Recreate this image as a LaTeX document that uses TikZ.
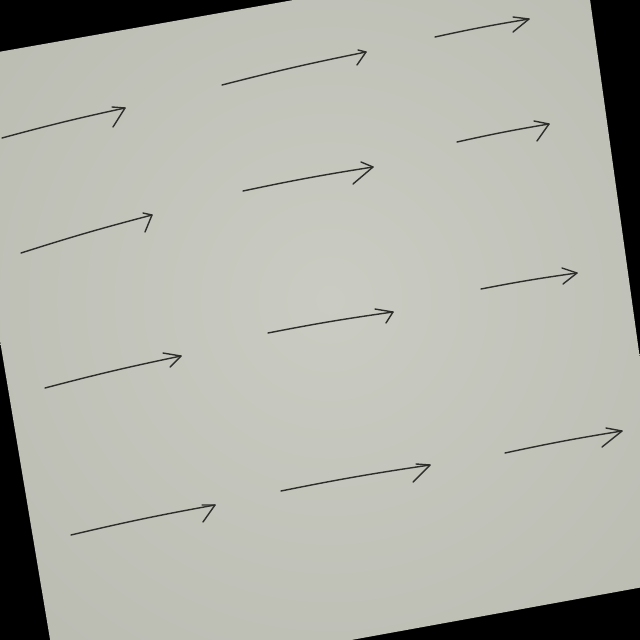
\documentclass[tikz,border=0pt]{standalone}
\begin{document}
\begin{tikzpicture}[x=0.02cm,y=-0.02cm,
  ink/.style={draw={rgb,255:red,45;green,45;blue,42},line width=0.8pt,line cap=round,line join=round}]
\definecolor{paperin}{RGB}{202,203,194}
\definecolor{paperout}{RGB}{186,188,178}
\useasboundingbox (0,0) rectangle (640,640);
\clip (0,0) rectangle (640,640);
\fill[black] (0,0) rectangle (640,640);
\begin{scope}
  \clip (-47,60) -- (583,-51) -- (671,582) -- (59,693) -- cycle;
  \shade[inner color=paperin,outer color=paperout] (330,300) circle (460);
\end{scope}
% arrows: start / tip / upper barb / lower barb
\foreach \sx/\sy/\tx/\ty/\ux/\uy/\lx/\ly in {
  2/138/125/108/112/107/113/127,
  222/85/366/52/358/50/357/65,
  435/37/529/19/513/17/513/32,
  21/253/152/215/143/213/145/232,
  243/191/373/167/361/162/353/184,
  457/142/549/124/534/121/537/141,
  45/388/181/356/163/353/170/367,
  268/333/393/312/375/309/386/323,
  481/289/577/273/562/268/563/284,
  71/535/215/505/202/505/203/522,
  281/491/430/465/416/464/413/482,
  505/453/622/431/606/428/602/447}{
  \coordinate (s) at (\sx,\sy);
  \coordinate (t) at (\tx,\ty);
  \coordinate (u) at (\ux,\uy);
  \coordinate (l) at (\lx,\ly);
  \draw[ink] (s) to[bend left=1.5] (t);
  \draw[ink] (u) -- (t) -- (l);
}
\end{tikzpicture}
\end{document}
